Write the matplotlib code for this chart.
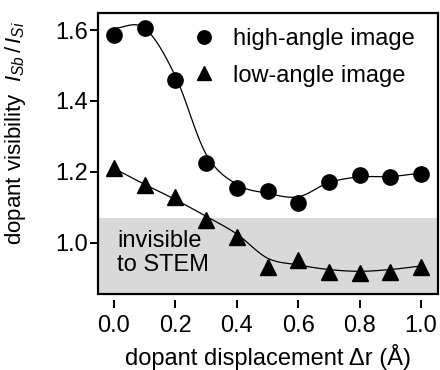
import numpy as np
import matplotlib
matplotlib.use("Agg")
import matplotlib.pyplot as plt
from matplotlib.patches import Rectangle

# data
dr = [0.0, 0.1, 0.2, 0.3, 0.4, 0.5, 0.6, 0.7, 0.8, 0.9, 1.0]
high_angle = [1.586, 1.605, 1.459, 1.225, 1.155, 1.146, 1.113, 1.172, 1.190, 1.186, 1.194]
low_angle = [1.211, 1.163, 1.130, 1.065, 1.017, 0.932, 0.952, 0.918, 0.915, 0.918, 0.932]
high_fit = [1.605, 1.605, 1.470, 1.250, 1.165, 1.140, 1.130, 1.170, 1.186, 1.187, 1.197]
low_fit = [1.210, 1.165, 1.122, 1.075, 1.025, 0.957, 0.938, 0.925, 0.920, 0.925, 0.935]
invisible_level = 1.07
xticks = [0.0, 0.2, 0.4, 0.6, 0.8, 1.0]
yticks = [1.0, 1.2, 1.4, 1.6]

plt.rcParams['font.family'] = ['Liberation Sans', 'DejaVu Sans']
plt.rcParams['mathtext.fontset'] = 'custom'
plt.rcParams['mathtext.rm'] = 'Liberation Sans'
plt.rcParams['mathtext.it'] = 'Liberation Sans:italic'


def smooth(x, y, n=12):
    # Catmull-Rom rendering of the fitted curve between read fit values
    x = np.asarray(x, float); y = np.asarray(y, float)
    P = np.column_stack([x, y])
    P = np.vstack([2 * P[0] - P[1], P, 2 * P[-1] - P[-2]])
    out = []
    t = np.linspace(0, 1, n, endpoint=False)[:, None]
    for i in range(1, len(P) - 2):
        p0, p1, p2, p3 = P[i - 1], P[i], P[i + 1], P[i + 2]
        seg = 0.5 * ((2 * p1) + (-p0 + p2) * t + (2 * p0 - 5 * p1 + 4 * p2 - p3) * t ** 2
                     + (-p0 + 3 * p1 - 3 * p2 + p3) * t ** 3)
        out.append(seg)
    out.append(P[-2][None, :])
    out = np.vstack(out)
    return out[:, 0], out[:, 1]


fig = plt.figure(figsize=(4.4, 3.7), dpi=100)
ax = fig.add_axes([98 / 440, 1 - 294 / 370, 340 / 440, 281 / 370])
ax.set_xlim(-0.052, 1.055)
ax.set_ylim(0.856, 1.648)

ax.axhspan(0.7, invisible_level, color='#d9d9d9', zorder=0, lw=0)

xs, ys = smooth(dr, high_fit)
ax.plot(xs, ys, color='black', lw=0.9, zorder=2)
xs, ys = smooth(dr, low_fit)
ax.plot(xs, ys, color='black', lw=0.9, zorder=2)

ax.plot(dr, high_angle, 'o', color='black', ms=11, zorder=3, label='high-angle image')
ax.plot(dr, low_angle, '^', color='black', ms=11.5, zorder=3, label='low-angle image')

ax.legend(loc='upper left', bbox_to_anchor=(0.235, 0.997), frameon=False, fontsize=17,
          handletextpad=0.75, labelspacing=0.62, handlelength=1.0, borderaxespad=0.2,
          markerscale=0.88)

ax.text(0.01, 0.972, 'invisible\nto STEM', fontsize=17, va='center', ha='left',
        linespacing=1.12, transform=ax.transData)

for s in ax.spines.values():
    s.set_visible(False)
ax.spines['bottom'].set_position(('outward', 4))
ax.add_patch(Rectangle((0, 0), 1, 1, transform=ax.transAxes, fill=False,
                       ec='black', lw=1.6, clip_on=False, zorder=5))

ax.set_xticks(xticks)
ax.set_xticklabels([f'{v:.1f}' for v in xticks])
ax.set_yticks(yticks)
ax.set_yticklabels([f'{v:.1f}' for v in yticks])
ax.tick_params(axis='both', labelsize=17, length=6, width=1.4, color='black')
ax.tick_params(axis='x', pad=5)
ax.tick_params(axis='y', pad=1)

ax.set_xlabel('dopant displacement \u0394r (\u00c5)', fontsize=17, labelpad=5)
ax.set_ylabel(r'dopant visibility  $I_{Sb}\,/\,I_{Si}$', fontsize=16)
ax.yaxis.set_label_coords(-0.205, 0.572)

fig.savefig('out.png', dpi=100)
